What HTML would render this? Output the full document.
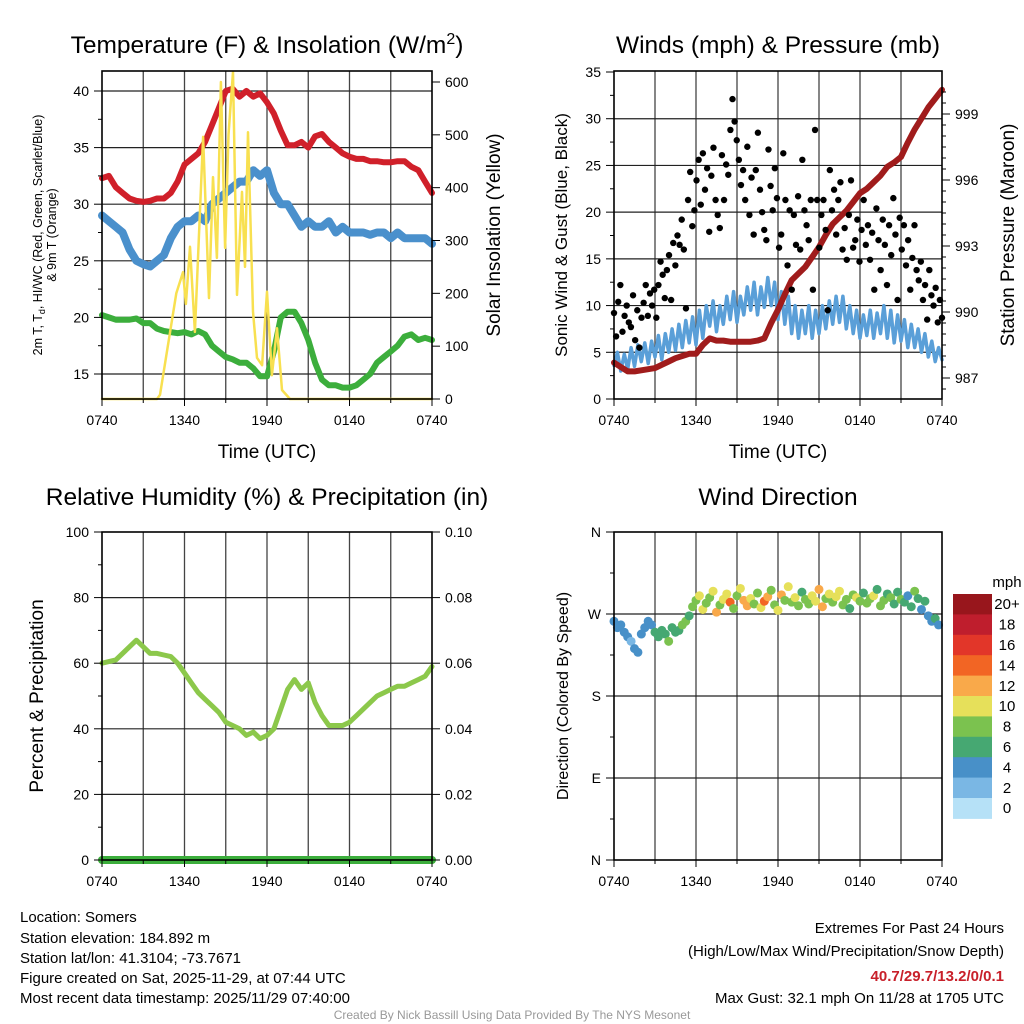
<!DOCTYPE html>
<html><head><meta charset="utf-8"><style>
html,body{margin:0;padding:0;background:#fff;width:1024px;height:1024px;overflow:hidden}
svg text{font-family:"Liberation Sans",Arial,sans-serif;fill:#000}
</style></head><body>
<svg id="chart" width="1024" height="1024" viewBox="0 0 1024 1024" xmlns="http://www.w3.org/2000/svg">
<g id="layer-grid"></g>
<g id="layer-data"></g>
<g id="layer-axes"></g>
<text x="267" y="53" font-size="24.5" text-anchor="middle">Temperature (F) &amp; Insolation (W/m<tspan dy="-9" font-size="16">2</tspan><tspan dy="9">)</tspan></text>
<text x="778" y="53" font-size="24.5" text-anchor="middle">Winds (mph) &amp; Pressure (mb)</text>
<text x="267" y="505" font-size="24.5" text-anchor="middle">Relative Humidity (%) &amp; Precipitation (in)</text>
<text x="778" y="505" font-size="24.5" text-anchor="middle">Wind Direction</text>
<text transform="translate(42,235) rotate(-90)" font-size="12.5" text-anchor="middle">2m T, T<tspan dy="3" font-size="9">d</tspan><tspan dy="-3">, HI/WC (Red, Green, Scarlet/Blue)</tspan></text>
<text transform="translate(56,235) rotate(-90)" font-size="12.5" text-anchor="middle">&amp; 9m T (Orange)</text>
<text transform="translate(500,235) rotate(-90)" font-size="19" text-anchor="middle">Solar Insolation (Yellow)</text>
<text transform="translate(567,235) rotate(-90)" font-size="17" text-anchor="middle">Sonic Wind &amp; Gust (Blue, Black)</text>
<text transform="translate(1014,235) rotate(-90)" font-size="19" text-anchor="middle">Station Pressure (Maroon)</text>
<text transform="translate(43,696) rotate(-90)" font-size="19" text-anchor="middle">Percent &amp; Precipitation</text>
<text transform="translate(568,696) rotate(-90)" font-size="16" text-anchor="middle">Direction (Colored By Speed)</text>
<text x="267" y="458" font-size="19" text-anchor="middle">Time (UTC)</text>
<text x="778" y="458" font-size="19" text-anchor="middle">Time (UTC)</text>
<text x="1007" y="587" font-size="15" text-anchor="middle">mph</text>
<g font-size="15">
<text x="20" y="922">Location: Somers</text>
<text x="20" y="943">Station elevation: 184.892 m</text>
<text x="20" y="963">Station lat/lon: 41.3104; -73.7671</text>
<text x="20" y="983">Figure created on Sat, 2025-11-29, at 07:44 UTC</text>
<text x="20" y="1003">Most recent data timestamp: 2025/11/29 07:40:00</text>
</g>
<g font-size="15" text-anchor="end">
<text x="1004" y="933">Extremes For Past 24 Hours</text>
<text x="1004" y="956">(High/Low/Max Wind/Precipitation/Snow Depth)</text>
<text x="1004" y="981" font-weight="bold" style="fill:#c8202a">40.7/29.7/13.2/0/0.1</text>
<text x="1004" y="1003">Max Gust: 32.1 mph On 11/28 at 1705 UTC</text>
</g>
<text x="512" y="1019" font-size="12" text-anchor="middle" style="fill:#999">Created By Nick Bassill Using Data Provided By The NYS Mesonet</text>
</svg>
<script>
// ---------- data ----------
const xTickLabels = ["0740","1340","1940","0140","0740"];
const tempTicks = [15,20,25,30,35,40];
const solarTicks = [0,100,200,300,400,500,600];
const windTicks = [0,5,10,15,20,25,30,35];
const pressTicks = [987,990,993,996,999];
const rhTicks = [0,20,40,60,80,100];
const precipTicks = ["0.00","0.02","0.04","0.06","0.08","0.10"];
const dirTicks = ["N","E","S","W","N"];
const speedBins = ["0","2","4","6","8","10","12","14","16","18","20+"];
const speedColors = ["#b6e1f7","#7ab7e4","#4890c8","#46a872","#7bc24f","#e6e05a","#f9a94a","#f26524","#e23629","#bf1e2d","#98161c"];
// half-hourly series (hours 0..24 from 0740 UTC)
const tempRed = [32.3,32.5,31.5,31,30.5,30.3,30.2,30.3,30.5,30.5,31,32,33.5,34,34.5,35.5,37,38.5,40,40.2,39.5,40,39.5,39.8,39,38,36.5,35.2,35.2,35.5,35,36,36.2,35.5,35,34.5,34.2,34,34,33.8,33.8,33.7,33.7,33.8,33.8,33.3,33,32,31];
const tempBlue = [29,28.5,28,27.5,26,25,24.7,24.5,25,25.5,27,28,28.5,28.5,29,28.5,30,30.5,31,31.5,32,32,33,32.5,33,31,30,30,29,28,28.5,28,28,28.5,27.5,28,27.5,27.5,27.5,27.3,27.5,27.5,27,27.5,27,27,27,27,26.5];
const tempGreen = [20.2,20,19.8,19.8,19.8,19.9,19.5,19.5,19,18.8,18.7,18.6,18.7,18.5,18.8,18.5,17.5,17,16.5,16.3,16,16,15.5,14.8,14.8,17,20,20.5,20.5,19.5,18,16,14.5,14,14,13.8,13.8,14,14.5,15,16,16.5,17,17.5,18.3,18.5,18,18.2,18];
const solarHours = [0,4.0,4.22,4.95,5.4,5.89,6.1,6.4,6.76,7.35,7.78,8.07,8.36,8.65,8.95,9.2,9.53,9.82,10.18,10.4,10.62,10.98,11.27,11.64,12.0,12.36,12.73,13.09,13.67,24];
const solarVals = [0,0,8,127,200,240,180,288,127,496,191,420,267,600,286,500,619,197,392,250,505,165,78,64,203,45,134,17,0,0];
// quarter-hourly sonic wind
const windSonic = [3.6,5,3,4.8,3.2,5.5,3.5,5.8,4,6,3.8,6.2,4.5,6.8,4.2,7,5,7.5,5.2,8,5.5,8.4,6,8.8,5.8,9.5,6.5,10,7.8,10.5,7.2,10,8,11,8.5,11.5,8.2,11,9,12,9.5,12.5,9,12,9.8,13,10,12.5,8.5,11.5,8,11,7,10,6.5,9.5,7,10,6.5,9.5,7,10,7.5,10.5,8,11,8.2,11,7.5,10,7,9.5,6.5,9,6.8,9.5,6.5,9.2,7,10,6.5,9.5,6,9,6.2,8.5,5.5,8,5.5,7.5,5,7,4.5,6.2,4,5.5,4.2];
const pressure = [987.7,987.5,987.3,987.3,987.35,987.4,987.45,987.6,987.75,987.9,988.0,988.1,988.1,988.5,988.8,988.7,988.7,988.65,988.65,988.65,988.65,988.7,988.8,989.5,990.1,990.8,991.45,991.75,992.05,992.5,992.95,993.5,994.0,994.3,994.6,995.0,995.4,995.6,995.9,996.2,996.6,996.8,997.05,997.7,998.3,998.8,999.3,999.7,1000.1];
const windGust = [9.2,6.7,10.4,12.2,7.2,8.9,10,8.2,7.7,11.1,6.3,9.5,5.5,8.7,10.3,12.2,8.9,
11.3,10,11.7,8.7,12.2,14.7,13.3,10.8,13.8,15.4,10.6,16.7,14.3,17.5,16.5,19.2,16,9.7,
21.3,24.3,18.5,20.2,23.4,25.6,20.8,26.3,22.4,24.7,17.9,23.9,26.9,21.3,19.7,18.3,26.1,21.3,25.1,24,
28.8,32.1,29.7,27.7,25.6,22.9,24.5,21.3,27,19.7,23.7,17.6,24.5,28.5,22.4,20,18.1,17,26.7,22.8,
20.2,24.7,21.5,16.2,17.6,26.3,21.3,14.3,20.2,11.7,19.7,16.5,21.7,16,25.6,20.2,18.6,17,21.3,11.7,
28.8,21.3,16.2,19.7,21.3,18.1,9.5,24.5,20.2,22.4,17.6,21.3,23.2,16,18.3,14.9,19.7,23.4,16.2,17,
19.2,14.7,18.1,21.3,16.5,18.6,14.9,17.8,11.7,20.4,17,13.8,19.2,16.5,12.2,18.6,15.4,21.5,17.6,10.6,19.4,
16,18.6,14.3,17,11.7,15.1,18.6,13.8,12.7,14.7,10.6,12.2,8.5,13.8,11.1,10,11.9,8.2,10.6,8.7];
const rh = [60,60.5,61,63,65,67,65,63,63,62.5,62,60,57,54,51,49,47,45,42,41,40,38,39,37,38,40,46,52,55,52,54,48,44,41,41,41,42,44,46,48,50,51,52,53,53,54,55,56,59];
const precip = [0,0,0,0,0,0,0,0,0,0,0,0,0,0,0,0,0,0,0,0,0,0,0,0,0,0,0,0,0,0,0,0,0,0,0,0,0,0,0,0,0,0,0,0,0,0,0,0,0];
// quarter-hourly wind direction (deg) and speed (mph)
const windDir = [262,255,258,250,245,240,232,228,248,255,262,258,
250,245,252,248,240,255,250,252,258,262,268,
278,285,290,275,282,288,295,272,280,286,292,283,276,290,298,285,279,287,281,293,277,284,289,296,280,274,291,285,300,283,288,279,294,286,281,290,284,297,278,287,292,283,289,295,280,286,276,291,288,284,293,282,287,290,297,279,285,292,288,281,294,286,283,290,278,295,287,275,284,268,262,265,258];
const windSpd = [4,3,4,4,3,2,4,3,4,3,4,4,
6,6,5,6,7,6,5,6,7,7,6,
7,8,9,10,7,8,9,12,8,9,10,13,7,8,10,11,12,9,8,7,10,13,11,8,7,9,12,8,10,7,9,8,6,7,8,9,10,12,11,8,9,7,9,10,8,7,6,8,9,7,6,8,7,9,6,7,8,6,7,6,5,7,6,4,6,7,5,4,6,4,4,5,4];

// ---------- helpers ----------
const NS="http://www.w3.org/2000/svg";
const gGrid=document.getElementById('layer-grid');
const gData=document.getElementById('layer-data');
const gAxes=document.getElementById('layer-axes');
function mk(tag,attrs,parent){const e=document.createElementNS(NS,tag);for(const k in attrs)e.setAttribute(k,attrs[k]);parent.appendChild(e);return e;}
function lin(d0,d1,r0,r1){return v=>r0+(v-d0)*(r1-r0)/(d1-d0);}
function halfHours(arr){return arr.map((v,i)=>i*24/(arr.length-1));}

const panels={
 temp:{x0:102,x1:432,y0:71,y1:399},
 wind:{x0:614,x1:942,y0:71,y1:399},
 rh:{x0:102,x1:432,y0:532,y1:860},
 dir:{x0:614,x1:942,y0:532,y1:860}
};

function frame(p,name,yTicks,ySc,yLabels,minorTicks,rTicks,rSc,rLabels){
 const xs=lin(0,24,p.x0,p.x1);
 for(let h=3;h<24;h+=3){
  const l=mk('line',{x1:xs(h),x2:xs(h),y1:p.y0,y2:p.y1,stroke:'#444','stroke-width':1.3},gGrid);
  
  
 }
 yTicks.forEach((t,i)=>{
  const y=ySc(t);
  if(y>p.y0+1&&y<p.y1-1){const l=mk('line',{x1:p.x0,x2:p.x1,y1:y,y2:y,stroke:'#222','stroke-width':1.2},gGrid);
   
   }
  mk('line',{x1:p.x0-8,x2:p.x0,y1:y,y2:y,stroke:'#000','stroke-width':1},gAxes);
  const tx=mk('text',{x:p.x0-13,y:y+5,'font-size':14,'text-anchor':'end'},gAxes);
  tx.textContent=yLabels?yLabels[i]:t;
  
  
 });
 (minorTicks||[]).forEach(t=>{const y=ySc(t);if(y>=p.y0&&y<=p.y1)mk('line',{x1:p.x0-4,x2:p.x0,y1:y,y2:y,stroke:'#000','stroke-width':1},gAxes);});
 if(rTicks){rTicks.forEach((t,i)=>{
  const y=rSc(t);
  mk('line',{x1:p.x1,x2:p.x1+8,y1:y,y2:y,stroke:'#000','stroke-width':1},gAxes);
  const tx=mk('text',{x:p.x1+13,y:y+5,'font-size':14,'text-anchor':'start'},gAxes);
  tx.textContent=rLabels?rLabels[i]:t;
  
  
 });}
 xTickLabels.forEach((lab,i)=>{
  const x=xs(i*6);
  mk('line',{x1:x,x2:x,y1:p.y1,y2:p.y1+7,stroke:'#000','stroke-width':1},gAxes);
  const tx=mk('text',{x:x,y:p.y1+26,'font-size':14,'text-anchor':'middle'},gAxes);
  tx.textContent=lab;
  
  
 });
 for(let h=3;h<24;h+=6){mk('line',{x1:xs(h),x2:xs(h),y1:p.y1,y2:p.y1+4,stroke:'#000'},gAxes);}
 const r=mk('rect',{x:p.x0,y:p.y0,width:p.x1-p.x0,height:p.y1-p.y0,fill:'none',stroke:'#000','stroke-width':1.6},gAxes);
 
 
 return xs;
}
function line(xs,ys,hours,vals,color,w,name){
 const d=vals.map((v,i)=>(i?'L':'M')+xs(hours[i]).toFixed(1)+','+ys(v).toFixed(1)).join('');
 const p=mk('path',{d:d,fill:'none',stroke:color,'stroke-width':w,'stroke-linejoin':'round','stroke-linecap':'round'},gData);
 
 
}

// ---------- temperature panel ----------
{const p=panels.temp;
 const yT=lin(15,40,374,91), yS=lin(0,600,399,82);
 const minor=[];for(let t=12.5;t<=42.5;t+=5)minor.push(t);
 const xs=frame(p,'temp',tempTicks,yT,null,minor,solarTicks,yS);
 line(xs,yT,halfHours(tempRed),tempRed,'#d0202a',6,'temp-red-line');
 line(xs,yT,halfHours(tempBlue),tempBlue,'#4a90cc',8,'temp-blue-line');
 line(xs,yT,halfHours(tempGreen),tempGreen,'#3cae3c',6,'temp-green-line');
 line(xs,yS,solarHours,solarVals,'#f8e050',2.5,'solar-yellow-line');
}
// ---------- wind panel ----------
{const p=panels.wind;
 const yW=lin(0,35,399,72), yP=lin(987,999,378,114);
 const xs=frame(p,'wind',windTicks,yW,null,[2.5,7.5,12.5,17.5,22.5,27.5,32.5],pressTicks,yP);
 for(let v=986.5;v<=1000;v+=0.5){const y=yP(v);if(y>p.y0&&y<p.y1)mk('line',{x1:p.x1,x2:p.x1+(v%3===0?8:4),y1:y,y2:y,stroke:'#000'},gAxes);}
 line(xs,yW,halfHours(windSonic),windSonic,'#5a9fd8',3.5,'sonic-wind-line');
 line(xs,yP,halfHours(pressure),pressure,'#a01c1c',6,'pressure-line');
 windGust.forEach((v,i)=>{
  const c=mk('circle',{cx:xs(i*24/(windGust.length-1)),cy:yW(v),r:3.2,fill:'#000'},gData);
  
  
 });
}
// ---------- RH panel ----------
{const p=panels.rh;
 const yR=lin(0,100,860,532), yPr=lin(0,0.1,860,532);
 const minor=[];for(let t=10;t<100;t+=20)minor.push(t);
 const xs=frame(p,'rh',rhTicks,yR,null,minor,precipTicks.map(Number),yPr,precipTicks);
 line(xs,yR,halfHours(rh),rh,'#8cc84b',5,'rh-line');
 line(xs,yPr,halfHours(precip),precip,'#3cae3c',8,'precip-line');
}
// ---------- direction panel ----------
{const p=panels.dir;
 const yD=lin(0,360,860,532);
 const xs=frame(p,'dir',[0,90,180,270,360],yD,dirTicks,[45,135,225,315]);
 windDir.forEach((d,i)=>{
  const bin=Math.min(10,Math.round(windSpd[i]/2));
  const c=mk('circle',{cx:xs(i*0.25),cy:yD(d),r:4.5,fill:speedColors[bin]},gData);
  
  
 });
 const bh=20.4;
 for(let k=0;k<11;k++){
  const idx=10-k;
  const y=594+k*bh;
  const r=mk('rect',{x:953,y:y,width:39,height:bh+0.5,fill:speedColors[idx]},gAxes);
  
  
  const t=mk('text',{x:1007,y:y+bh/2+5,'font-size':15,'text-anchor':'middle'},gAxes);
  t.textContent=speedBins[idx];
  
  
 }
}
</script>
</body></html>
